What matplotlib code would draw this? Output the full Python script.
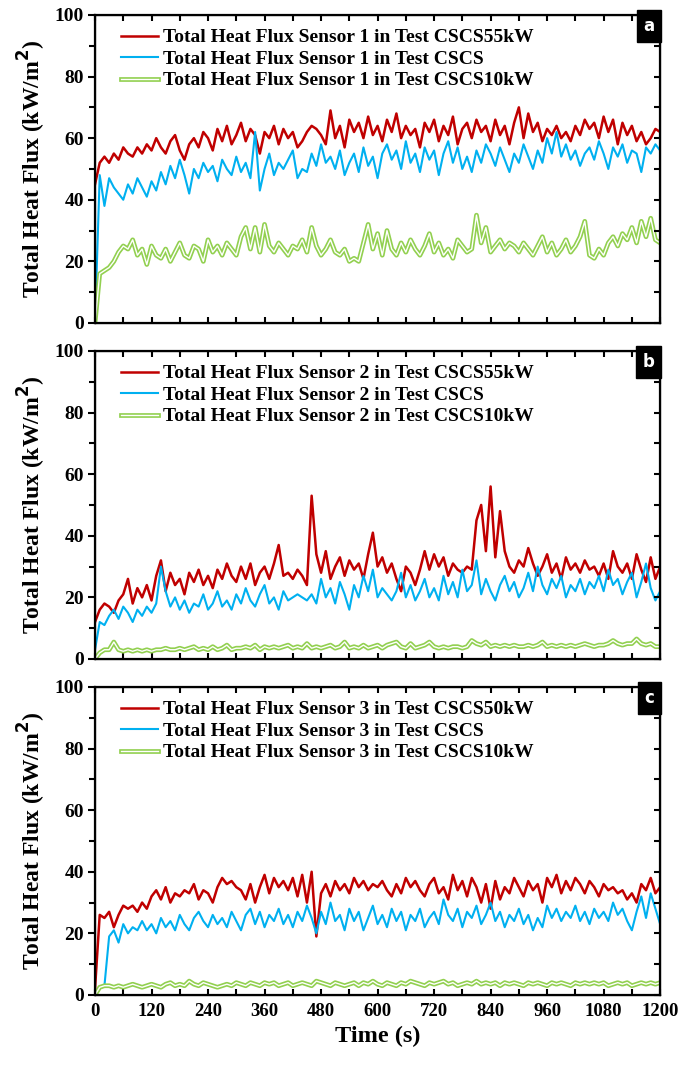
import matplotlib
matplotlib.use("Agg")
import matplotlib.pyplot as plt
import numpy as np
from matplotlib.ticker import MultipleLocator

plt.rcParams['font.family'] = ['Liberation Serif', 'DejaVu Serif']
plt.rcParams['font.weight'] = 'bold'

# time axis, one sample every 10 s
time_s = np.arange(0, 1201, 10)

# Panel a - sensor 1
red_a = [45, 52, 54, 52, 55, 53, 57, 55, 54, 57,
         55, 58, 56, 60, 57, 55, 59, 61, 56, 53,
         58, 60, 57, 62, 60, 56, 63, 59, 64, 58,
         61, 65, 59, 63, 61, 55, 62, 60, 64, 58,
         63, 60, 62, 57, 59, 62, 64, 63, 61, 58,
         69, 60, 64, 57, 66, 62, 65, 60, 67, 61,
         64, 59, 66, 62, 68, 60, 64, 61, 63, 57,
         65, 62, 66, 59, 64, 61, 67, 58, 63, 65,
         60, 66, 62, 64, 59, 66, 61, 64, 58, 65,
         70, 60, 68, 62, 65, 59, 63, 61, 64, 60,
         62, 59, 64, 61, 66, 63, 65, 60, 67, 62,
         66, 58, 65, 61, 64, 59, 62, 58, 60, 63,
         62]
blue_a = [0, 48, 38, 47, 44, 42, 40, 45, 42, 47,
          44, 41, 46, 43, 49, 45, 51, 47, 53, 48,
          42, 50, 47, 52, 49, 51, 46, 53, 50, 48,
          54, 49, 52, 47, 62, 43, 50, 55, 48, 52,
          50, 53, 56, 47, 50, 49, 55, 51, 58, 52,
          54, 50, 56, 48, 52, 55, 49, 57, 51, 54,
          47, 55, 58, 53, 56, 50, 59, 52, 55, 49,
          57, 53, 56, 48, 55, 59, 52, 57, 50, 54,
          49, 56, 52, 58, 55, 51, 57, 53, 49, 55,
          52, 58, 54, 50, 56, 52, 60, 55, 62, 54,
          58, 53, 56, 51, 55, 57, 53, 59, 55, 50,
          57, 54, 58, 52, 56, 55, 49, 57, 55, 58,
          56]
green_a = [0, 16, 17, 18, 20, 23, 25, 24, 27, 22,
           24, 19, 25, 22, 21, 24, 20, 23, 26, 22,
           21, 25, 24, 20, 27, 23, 25, 22, 26, 24,
           22, 28, 31, 24, 31, 23, 32, 25, 23, 26,
           24, 22, 25, 24, 27, 23, 31, 25, 22, 24,
           27, 23, 22, 24, 20, 21, 20, 26, 32, 24,
           29, 22, 30, 24, 22, 26, 23, 27, 24, 22,
           25, 29, 23, 26, 22, 24, 21, 27, 25, 23,
           24, 35, 26, 31, 23, 25, 27, 24, 26, 25,
           23, 26, 24, 22, 25, 28, 23, 26, 22, 24,
           27, 23, 25, 28, 33, 22, 21, 24, 22, 26,
           28, 25, 29, 27, 31, 26, 33, 28, 34, 27,
           26]

# Panel b - sensor 2
red_b = [12, 16, 18, 17, 15, 19, 21, 26, 18, 23,
         20, 24, 19, 27, 32, 22, 28, 24, 26, 21,
         28, 25, 29, 24, 27, 23, 29, 26, 31, 27,
         25, 30, 26, 31, 24, 28, 30, 26, 31, 37,
         27, 28, 26, 29, 27, 24, 53, 34, 28, 35,
         26, 30, 33, 27, 32, 29, 31, 26, 34, 41,
         30, 33, 28, 31, 26, 22, 30, 28, 24, 29,
         35, 29, 34, 30, 33, 27, 31, 29, 28, 30,
         29, 45, 50, 35, 56, 33, 48, 35, 30, 28,
         32, 30, 36, 31, 27, 30, 34, 28, 31, 26,
         33, 29, 31, 28, 32, 29, 30, 27, 31, 26,
         35, 30, 28, 31, 26, 34, 29, 25, 33, 26,
         30]
blue_b = [3, 12, 11, 14, 16, 13, 17, 15, 12, 16,
          14, 17, 15, 18, 30, 22, 17, 20, 16, 19,
          15, 18, 17, 21, 16, 18, 22, 17, 19, 16,
          21, 18, 23, 19, 17, 21, 24, 18, 20, 16,
          22, 19, 20, 21, 20, 19, 21, 18, 26, 20,
          23, 18, 25, 21, 16, 24, 20, 27, 22, 29,
          20, 23, 21, 19, 22, 28, 20, 24, 19, 22,
          26, 20, 23, 19, 27, 21, 25, 20, 29, 22,
          24, 32, 21, 26, 22, 19, 24, 27, 22, 25,
          20, 23, 28, 22, 30, 24, 21, 26, 23, 27,
          20, 24, 22, 26, 21, 25, 23, 27, 22, 29,
          24, 26, 21, 25, 28, 20, 25, 31, 23, 19,
          22]
green_b = [0, 2, 3, 3, 5.5, 3, 2.5, 3, 2.5, 3,
           2.5, 3, 2.5, 3, 3, 3.5, 3, 3, 3.5, 3,
           3.5, 4, 3, 3.5, 3, 4, 3, 3.5, 4.5, 3,
           3.5, 3.5, 4, 3.5, 4.5, 3, 4, 3.5, 4, 3.5,
           4, 4.5, 3.5, 4, 3.5, 5, 3.5, 4, 3.5, 4,
           4.5, 3.5, 4, 5.5, 3.5, 4, 3.5, 4.5, 3.5, 4,
           4.5, 3.5, 4.5, 5, 5.5, 4, 3.5, 5, 3.5, 4,
           4.5, 5.5, 4, 3.5, 4, 3.5, 4, 4, 3.5, 4,
           6, 5, 4.5, 5.5, 4, 4.5, 4, 4.5, 4, 4.5,
           4, 4, 4.5, 4, 4.5, 5.5, 4, 4.5, 4, 4.5,
           4, 4.5, 4, 4.5, 5, 4.5, 4, 4.5, 4.5, 5,
           6, 5, 4.5, 5, 5, 6.5, 5, 4.5, 5, 4,
           4]

# Panel c - sensor 3
red_c = [2, 26, 25, 27, 22, 26, 29, 28, 29, 27,
         30, 28, 32, 34, 31, 35, 30, 33, 32, 34,
         33, 36, 31, 34, 33, 30, 35, 38, 36, 37,
         35, 34, 31, 36, 30, 35, 39, 33, 38, 35,
         37, 34, 38, 32, 39, 30, 40, 19, 33, 36,
         32, 37, 34, 36, 33, 38, 35, 37, 34, 36,
         35, 37, 34, 32, 36, 33, 38, 35, 37, 34,
         32, 36, 38, 33, 35, 31, 39, 34, 37, 32,
         38, 35, 30, 36, 28, 37, 31, 35, 33, 38,
         35, 32, 37, 34, 36, 30, 38, 35, 39, 33,
         37, 34, 38, 36, 33, 37, 35, 32, 36, 34,
         35, 33, 34, 31, 33, 30, 36, 34, 38, 33,
         35]
blue_c = [0, 2, 3, 19, 21, 17, 23, 20, 22, 21,
          24, 21, 23, 20, 25, 22, 24, 21, 26, 23,
          21, 25, 27, 24, 22, 26, 23, 25, 22, 27,
          24, 21, 26, 28, 23, 27, 22, 26, 24, 28,
          23, 26, 22, 27, 24, 29, 25, 20, 27, 23,
          30, 24, 26, 21, 28, 24, 27, 21, 25, 29,
          23, 26, 22, 28, 24, 27, 21, 26, 24, 28,
          22, 25, 27, 23, 31, 26, 24, 28, 22, 27,
          25, 29, 23, 26, 30, 24, 27, 22, 26, 24,
          28, 23, 26, 21, 25, 22, 29, 25, 28, 24,
          27, 25, 29, 24, 27, 23, 28, 25, 27, 24,
          30, 26, 28, 24, 21, 27, 32, 25, 33, 28,
          23]
green_c = [0, 2.5, 3, 3, 2.5, 3, 2.5, 3, 3.5, 3,
           2.5, 3, 3.5, 3, 2.5, 3.5, 4, 3, 3.5, 3,
           4.5, 3.5, 3, 4, 3.5, 3, 2.5, 3, 3.5, 3,
           4, 3.5, 3, 4, 3.5, 3, 4, 3.5, 4, 3,
           3.5, 4, 3, 3.5, 4, 3.5, 3, 4.5, 4, 3.5,
           3, 4, 3.5, 3, 3.5, 4, 3, 4, 3.5, 4.5,
           3.5, 3, 4, 3.5, 3, 4, 3.5, 4.5, 4, 3.5,
           3, 4, 3.5, 4, 4.5, 3.5, 4, 3, 3.5, 4,
           3.5, 4.5, 3.5, 4, 3.5, 4, 3, 4, 3.5, 4,
           3.5, 3, 4, 3.5, 4, 3.5, 3, 4, 3.5, 4,
           3.5, 3, 4, 3.5, 4, 3.5, 4, 3.5, 4, 3,
           3.5, 4, 3.5, 4, 3, 3.5, 4, 3.5, 4, 3.5,
           4]

panel_tags = ['a', 'b', 'c']
sensor_ids = [1, 2, 3]
high_tests = ['CSCS55kW', 'CSCS55kW', 'CSCS50kW']

RED = '#C00000'
BLUE = '#00B0F0'
GREEN = '#92D050'

fig = plt.figure(figsize=(6.85, 10.67), dpi=100)
left, width, height = 0.1387, 0.825, 0.2887
bottoms = [0.6973, 0.3824, 0.0675]

panels = [(red_a, blue_a, green_a), (red_b, blue_b, green_b), (red_c, blue_c, green_c)]

for i, (r, b, g) in enumerate(panels):
    ax = fig.add_axes([left, bottoms[i], width, height])
    lr, = ax.plot(time_s, r, color=RED, lw=1.8)
    lb, = ax.plot(time_s, b, color=BLUE, lw=1.5)
    lg1, = ax.plot(time_s, g, color=GREEN, lw=3.4, solid_joinstyle='round')
    lg2, = ax.plot(time_s, g, color='white', lw=1.0, solid_joinstyle='round')

    ax.set_xlim(0, 1200)
    ax.set_ylim(0, 100)
    ax.xaxis.set_major_locator(MultipleLocator(120))
    ax.xaxis.set_minor_locator(MultipleLocator(60))
    ax.yaxis.set_major_locator(MultipleLocator(20))
    ax.yaxis.set_minor_locator(MultipleLocator(10))
    ax.tick_params(axis='y', which='both', direction='out', width=1.5, labelsize=14, pad=3)
    ax.tick_params(axis='y', which='major', length=5)
    ax.tick_params(axis='y', which='minor', length=4)
    ax.tick_params(axis='x', which='both', direction='in', width=1.5, length=4, labelsize=13.5, pad=6)
    if i < 2:
        ax.tick_params(axis='x', labelbottom=False)
    for s in ax.spines.values():
        s.set_linewidth(1.6)

    # inward ticks on top and right
    axr = ax.twinx()
    axr.set_ylim(0, 100)
    axr.yaxis.set_major_locator(MultipleLocator(10))
    axr.tick_params(axis='y', direction='in', width=1.5, length=4, labelright=False)
    axt = ax.twiny()
    axt.set_xlim(0, 1200)
    axt.xaxis.set_major_locator(MultipleLocator(60))
    axt.tick_params(axis='x', direction='in', width=1.5, length=4, labeltop=False)

    ax.set_ylabel('Total Heat Flux (kW/m$\\mathbf{^2}$)', fontsize=17, fontweight='bold', labelpad=5)

    sid = sensor_ids[i]
    labels = [f'Total Heat Flux Sensor {sid} in Test {high_tests[i]}',
              f'Total Heat Flux Sensor {sid} in Test CSCS',
              f'Total Heat Flux Sensor {sid} in Test CSCS10kW']
    axt.legend([lr, lb, (lg1, lg2)], labels, loc='upper left',
               bbox_to_anchor=(0.015, 1.012), frameon=False,
               handlelength=1.9, handletextpad=0.27, labelspacing=0.2,
               prop={'weight': 'bold', 'size': 14})

    axt.text(0.99, 0.993, panel_tags[i], transform=ax.transAxes, ha='right', va='top',
             color='white', fontsize=12, fontweight='bold', family='DejaVu Sans',
             bbox=dict(boxstyle='square,pad=0.4', fc='black', ec='black'))

    if i == 2:
        ax.set_xlabel('Time (s)', fontsize=17.5, fontweight='bold', labelpad=4)

fig.savefig('out.png', dpi=100)
